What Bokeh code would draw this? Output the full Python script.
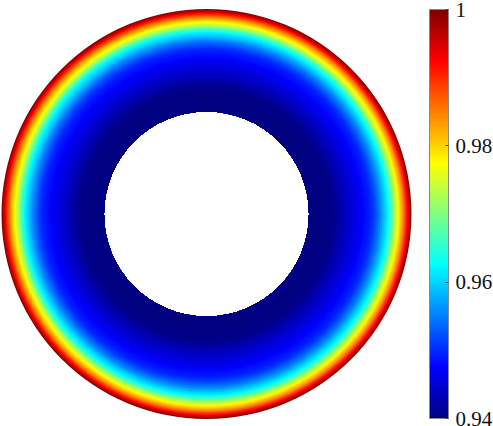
from bokeh.plotting import figure
from bokeh.models import (ColumnDataSource, LinearColorMapper, ColorBar,
                          FixedTicker, Range1d)
from bokeh.embed import file_html
from bokeh.resources import INLINE

# ---- data: radial profile (normalized radius = outer edge of each ring, value of ring) ----
ring_outer = [0.56, 0.57, 0.58, 0.59, 0.60, 0.61, 0.62, 0.63, 0.64, 0.65,
              0.66, 0.67, 0.68, 0.69, 0.70, 0.71, 0.72, 0.73, 0.74, 0.75,
              0.76, 0.77, 0.78, 0.79, 0.80, 0.81, 0.82, 0.83, 0.84, 0.85,
              0.86, 0.87, 0.88, 0.89, 0.90,
              0.905, 0.910, 0.915, 0.920, 0.925, 0.930, 0.935, 0.940, 0.945, 0.950,
              0.955, 0.960, 0.965, 0.970, 0.975, 0.980, 0.985, 0.990, 0.995, 1.000]
ring_value = [0.94000, 0.94000, 0.94012, 0.94024, 0.94036, 0.94048, 0.94060, 0.94108, 0.94162, 0.94210,
              0.94258, 0.94312, 0.94360, 0.94408, 0.94456, 0.94504, 0.94552, 0.94594, 0.94636, 0.94678,
              0.94726, 0.94774, 0.94828, 0.94882, 0.94936, 0.94990, 0.95092, 0.95230, 0.95374, 0.95518,
              0.95686, 0.95860, 0.96028, 0.96196, 0.96478,
              0.96652, 0.96886, 0.97054, 0.97216, 0.97372, 0.97510, 0.97654, 0.97798, 0.97948, 0.98098,
              0.98248, 0.98398, 0.98560, 0.98758, 0.98956, 0.99154, 0.99346, 0.99544, 0.99730, 0.99910]
inner_radius = 0.5
value_low, value_high = 0.94, 1.0
tick_values = [0.94, 0.96, 0.98, 1.0]
tick_labels = ["0.94", "0.96", "0.98", "1"]

# ---- jet colormap ----
def jet(n=256):
    pal = []
    for i in range(n):
        x = i / (n - 1)
        r = min(max(1.5 - abs(4 * x - 3), 0), 1)
        g = min(max(1.5 - abs(4 * x - 2), 0), 1)
        b = min(max(1.5 - abs(4 * x - 1), 0), 1)
        pal.append("#%02x%02x%02x" % (int(round(r * 255)), int(round(g * 255)), int(round(b * 255))))
    return pal

mapper = LinearColorMapper(palette=jet(), low=value_low, high=value_high)

W, H = 493, 426
unit = 205.0                   # pixels per normalized radius unit
cx_px, cy_px = 206.0, 213.5    # disc center in figure pixels (from left, from top)

p = figure(width=W, height=H, output_backend="svg", toolbar_location=None,
           x_axis_type=None, y_axis_type=None, min_border=0,
           x_range=Range1d(-cx_px / unit, (W - cx_px) / unit),
           y_range=Range1d(-(H - cy_px) / unit, cy_px / unit))
p.outline_line_color = None
p.grid.visible = False
p.background_fill_color = "white"

# draw outermost ring first, so each smaller disc sits on top (no seams)
order = sorted(range(len(ring_outer)), key=lambda i: -ring_outer[i])
src = ColumnDataSource(dict(
    x=[0.0] * len(order), y=[0.0] * len(order),
    r_in=[inner_radius] * len(order),
    r_out=[ring_outer[i] for i in order],
    v=[ring_value[i] for i in order]))
p.annulus(x="x", y="y", inner_radius="r_in", outer_radius="r_out", source=src,
          fill_color={"field": "v", "transform": mapper}, line_color=None)

cb = ColorBar(color_mapper=mapper, ticker=FixedTicker(ticks=tick_values),
              major_label_overrides=dict(zip(tick_values, tick_labels)),
              width=19, height=409, location=(429, 8), padding=0, margin=0,
              bar_line_color="#8a8a8a", bar_line_width=1,
              major_tick_line_color="#444444", major_tick_in=3, major_tick_out=0,
              minor_tick_line_color=None,
              label_standoff=7, major_label_text_font="Liberation Serif",
              major_label_text_font_size="21px", major_label_text_color="#111111",
              background_fill_alpha=0, border_line_color=None)
p.add_layout(cb)

open("out.html", "w").write(file_html(p, INLINE))
